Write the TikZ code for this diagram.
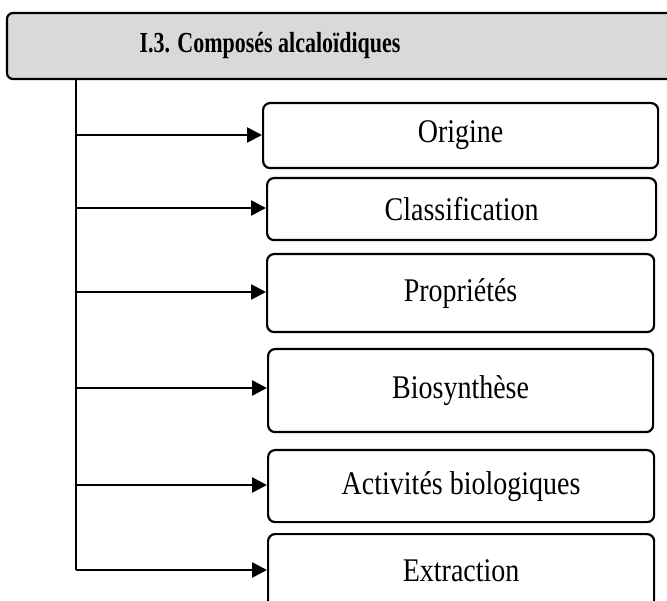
\documentclass[tikz,border=0pt]{standalone}
\usepackage{fontspec}
\setmainfont{Liberation Serif}
\usetikzlibrary{arrows.meta}
\definecolor{headgray}{HTML}{D9D9D9}
% text set a little taller than wide
\newcommand{\tallA}[1]{\scalebox{1}[1.32]{#1}}
\newcommand{\tallB}[1]{\scalebox{1}[1.18]{#1}}
\tikzset{
  headbox/.style={draw=black, line width=2.2pt, fill=headgray, rounded corners=6pt},
  itembox/.style={draw=black, line width=2.2pt, fill=white, rounded corners=7pt,
    anchor=north west, inner sep=0pt, font=\fontsize{28}{32}\selectfont},
  trunk/.style={draw=black, line width=2.6pt},
  branch/.style={draw=black, line width=2.6pt, -{Triangle[length=15pt,width=15pt]}}
}
\begin{document}
\begin{tikzpicture}[x=1pt, y=-1pt]
  \clip (0,0) rectangle (667,601);
  \fill[white] (0,0) rectangle (667,601);

  % title bar, running past the right edge
  \draw[headbox] (7,13) rectangle (700,79);
  \node[font=\bfseries\fontsize{22}{26}\selectfont] (title) at (270,46) {\tallA{I.3. Composés alcaloïdiques}};

  % vertical trunk
  \coordinate (ttop) at (76,79);
  \coordinate (tbot) at (76,570);
  \draw[trunk] (ttop) -- (tbot);

  % item boxes
  \node[itembox, minimum width=395, minimum height=65] (b1) at (262,102) {\tallB{Origine}};
  \node[itembox, minimum width=389, minimum height=62] (b2) at (266,177) {\tallB{Classification}};
  \node[itembox, minimum width=387, minimum height=78] (b3) at (266,253) {\tallB{Propriétés}};
  \node[itembox, minimum width=385, minimum height=83] (b4) at (267,348) {\tallB{Biosynthèse}};
  \node[itembox, minimum width=386, minimum height=72] (b5) at (267,449) {\tallB{Activités biologiques}};
  \node[itembox, minimum width=386, minimum height=74] (b6) at (267,533) {\tallB{Extraction}};

  % branches
  \foreach \b/\yy in {b1/135, b2/208, b3/292, b4/388, b5/485, b6/570} {
    \coordinate (s\b) at (76,\yy);
    \draw[branch] (s\b) -- (s\b -| \b.west);
  }
\end{tikzpicture}
\end{document}
